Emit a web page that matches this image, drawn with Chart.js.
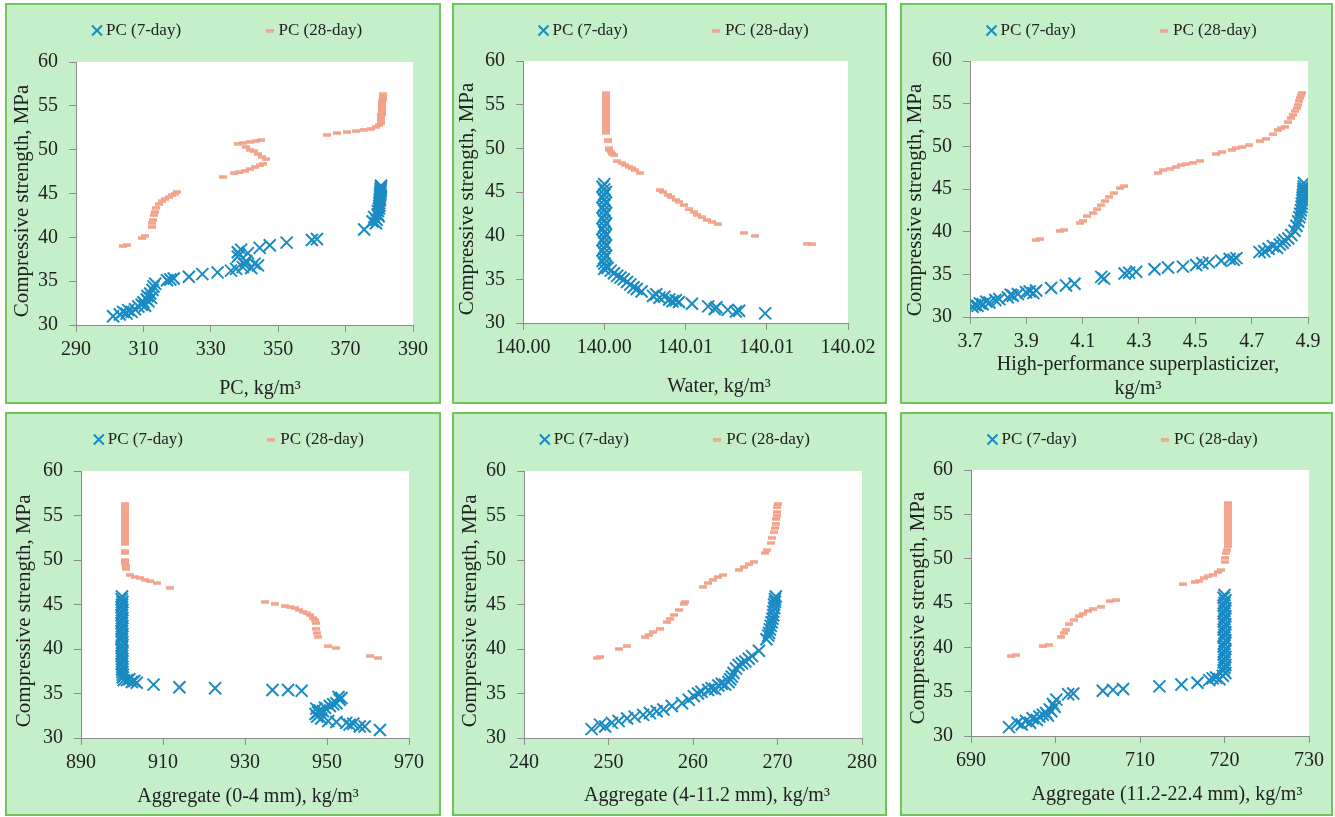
<!DOCTYPE html>
<html>
<head>
<meta charset="utf-8">
<title>Compressive strength vs mix constituents</title>
<script src="https://cdn.jsdelivr.net/npm/chart.js"></script>
<style>
  body { margin: 0; background: #fff; }
  .panel { position: absolute; background: #c4efc8; box-shadow: inset 0 0 0 2px #74c25a; }
  .panel canvas { position: absolute; left: 0; top: 0; }
</style>
</head>
<body>
<div class="panel" style="left:5px;top:3px;width:436px;height:401px"><canvas id="c1" width="436" height="401"></canvas></div>
<div class="panel" style="left:452px;top:3px;width:435px;height:401px"><canvas id="c2" width="435" height="401"></canvas></div>
<div class="panel" style="left:900px;top:3px;width:433px;height:401px"><canvas id="c3" width="433" height="401"></canvas></div>
<div class="panel" style="left:5px;top:412px;width:436px;height:404px"><canvas id="c4" width="436" height="404"></canvas></div>
<div class="panel" style="left:452px;top:412px;width:435px;height:404px"><canvas id="c5" width="435" height="404"></canvas></div>
<div class="panel" style="left:900px;top:412px;width:433px;height:404px"><canvas id="c6" width="433" height="404"></canvas></div>

<script>
/* ---------------- DATA ---------------- */
const seriesLabels = ['PC (7-day)', 'PC (28-day)'];
const strengthTicks = [30, 35, 40, 45, 50, 55, 60];
const strengthTitle = 'Compressive strength, MPa';

// PC content
const pcTicks = [290, 310, 330, 350, 370, 390];
const pcTickLabels = ['290', '310', '330', '350', '370', '390'];
const pc7X = [301.0, 303.0, 304.0, 305.0, 305.5, 306.5, 307.5, 308.5, 309.5, 310.0, 310.5, 311.0, 311.2, 311.5, 312.0, 312.3, 312.7, 313.0, 313.5, 317.0, 318.0, 319.0, 323.5, 327.5, 332.0, 336.0, 337.5, 338.0, 338.0, 338.5, 339.0, 339.5, 340.0, 340.5, 341.0, 342.0, 343.0, 344.0, 344.5, 347.5, 352.5, 360.0, 361.5, 375.5,
  378.0, 378.5, 379.0, 379.2, 379.5, 379.6, 379.8, 379.9, 380.0, 380.0, 380.1, 380.2, 380.2, 380.3, 380.3, 380.4, 380.4, 380.5, 380.5];
const pc7Y = [31.0, 31.2, 31.5, 31.3, 31.7, 31.5, 31.8, 32.1, 32.3, 32.6, 32.2, 32.9, 33.3, 32.7, 33.6, 33.1, 34.0, 34.4, 34.7, 35.1, 35.2, 35.3, 35.5, 35.8, 36.0, 36.2, 36.4, 37.8, 38.3, 38.0, 38.6, 36.6, 36.9, 37.3, 38.2, 36.5, 37.0, 36.8, 38.8, 39.1, 39.4, 39.7, 39.8, 40.9,
  41.8, 42.3, 41.6, 42.0, 42.6, 43.0, 42.4, 43.3, 43.6, 43.9, 44.2, 44.4, 44.7, 44.9, 45.1, 45.3, 45.5, 45.7, 45.9];
const pc28X = [304.0, 305.0, 309.5, 310.5, 312.5, 312.7, 312.9, 313.0, 313.3, 313.7, 314.5, 315.5, 316.5, 317.5, 318.5, 319.5, 320.0, 333.5, 337.0, 338.5, 340.0, 341.5, 343.0, 344.5, 345.5, 346.3, 345.2, 344.0, 342.8, 341.6, 340.5, 338.0, 339.5, 341.5, 343.5, 345.0, 364.5, 367.5, 370.5, 373.0, 375.5, 377.5, 379.0, 380.0,
  380.4, 380.5, 380.6, 380.6, 380.7, 380.7, 380.8, 380.8, 380.8, 380.9, 380.9, 380.9, 381.0, 381.0, 381.0, 381.0];
const pc28Y = [39.0, 39.1, 39.9, 40.2, 41.2, 41.6, 42.0, 42.5, 42.9, 43.4, 43.8, 44.1, 44.4, 44.6, 44.8, 45.0, 45.2, 46.9, 47.3, 47.4, 47.6, 47.8, 48.0, 48.2, 48.4, 48.9, 49.2, 49.5, 49.8, 50.0, 50.3, 50.7, 50.8, 50.9, 51.0, 51.1, 51.7, 51.9, 52.0, 52.1, 52.3, 52.4, 52.6, 52.8,
  53.0, 53.3, 53.6, 53.9, 54.1, 54.3, 54.5, 54.7, 54.9, 55.1, 55.3, 55.5, 55.7, 55.9, 56.1, 56.3];

// Water content
const waterTicks = [140.000, 140.005, 140.010, 140.015, 140.020];
const waterTickLabels = ['140.00', '140.00', '140.01', '140.01', '140.02'];
const water7X = [140.0050, 140.0049, 140.0050, 140.0051, 140.0050, 140.0049, 140.0050, 140.0051, 140.0050, 140.0049, 140.0050, 140.0051, 140.0050, 140.0049, 140.0050, 140.0051, 140.0050, 140.0049, 140.0050, 140.0051, 140.0050, 140.0049, 140.0050, 140.0051, 140.0050, 140.0049, 140.0050, 140.0051, 140.0050, 140.0049, 140.0050, 140.0051, 140.0050,
  140.0052, 140.0054, 140.0056, 140.0058, 140.0060, 140.0062, 140.0064, 140.0066, 140.0068, 140.0070, 140.0073, 140.0080, 140.0082, 140.0084, 140.0087, 140.0090, 140.0092, 140.0094, 140.0096, 140.0104, 140.0114, 140.0118, 140.0119, 140.0126, 140.0131, 140.0133, 140.0149];
const water7Y = [45.9, 45.6, 45.3, 45.0, 44.7, 44.4, 44.1, 43.8, 43.5, 43.2, 42.9, 42.6, 42.3, 42.0, 41.7, 41.4, 41.1, 40.8, 40.4, 40.1, 39.8, 39.5, 39.2, 38.9, 38.6, 38.3, 38.0, 37.7, 37.4, 37.1, 36.8, 36.5, 36.2,
  36.3, 36.0, 35.7, 35.4, 35.2, 35.0, 34.7, 34.4, 34.1, 33.9, 33.6, 33.1, 33.3, 32.9, 33.0, 32.7, 32.5, 32.6, 32.4, 32.2, 31.9, 31.6, 31.8, 31.5, 31.3, 31.4, 31.1];
const water28X = [140.0051, 140.0051, 140.0051, 140.0051, 140.0051, 140.0051, 140.0051, 140.0051, 140.0051, 140.0051, 140.0051, 140.0051, 140.0051, 140.0051, 140.0051, 140.0051,
  140.0052, 140.0052, 140.0053, 140.0053, 140.0054, 140.0055, 140.0056, 140.0058, 140.0061, 140.0063, 140.0065, 140.0067, 140.0069, 140.0072,
  140.0084, 140.0086, 140.0089, 140.0091, 140.0094, 140.0096, 140.0099, 140.0102, 140.0105, 140.0107, 140.0110, 140.0113, 140.0116, 140.0120, 140.0136, 140.0143, 140.0175, 140.0178];
const water28Y = [56.3, 56.0, 55.7, 55.4, 55.1, 54.8, 54.5, 54.2, 53.9, 53.6, 53.3, 53.0, 52.7, 52.4, 52.1, 51.8,
  51.0, 50.8, 50.0, 49.8, 49.6, 49.4, 49.2, 48.5, 48.3, 48.1, 47.9, 47.7, 47.5, 47.2,
  45.2, 45.0, 44.7, 44.4, 44.1, 43.9, 43.5, 43.0, 42.7, 42.4, 42.1, 41.8, 41.6, 41.3, 40.3, 40.0, 39.1, 39.0];

// High-performance superplasticizer content
const hpspTicks = [3.7, 3.9, 4.1, 4.3, 4.5, 4.7, 4.9];
const hpspTickLabels = ['3.7', '3.9', '4.1', '4.3', '4.5', '4.7', '4.9'];
const hpsp7X = [3.709, 3.718, 3.727, 3.735, 3.745, 3.758, 3.769, 3.790, 3.804, 3.834, 3.845, 3.852, 3.870, 3.899, 3.912, 3.925, 3.935, 3.988, 4.041, 4.071, 4.166, 4.176, 4.249, 4.265, 4.290, 4.355, 4.403, 4.456, 4.503, 4.525, 4.548, 4.592, 4.622, 4.636, 4.646, 4.728, 4.745, 4.760, 4.776, 4.790, 4.800, 4.810, 4.817, 4.830, 4.841, 4.852, 4.859, 4.865, 4.869, 4.872, 4.875, 4.877, 4.878, 4.880, 4.881, 4.882, 4.883, 4.884, 4.885, 4.885];
const hpsp7Y = [31.2, 31.4, 31.3, 31.6, 31.5, 31.8, 31.7, 32.0, 32.1, 32.3, 32.6, 32.5, 32.7, 32.9, 33.0, 32.8, 33.1, 33.4, 33.7, 33.9, 34.7, 34.5, 35.1, 35.2, 35.3, 35.6, 35.8, 35.9, 36.1, 36.3, 36.4, 36.6, 36.8, 36.7, 36.9, 37.6, 37.7, 38.0, 38.3, 38.1, 38.5, 38.7, 39.0, 39.2, 39.6, 40.1, 40.7, 41.2, 41.7, 42.1, 42.5, 42.9, 43.3, 43.7, 44.0, 44.3, 44.7, 45.0, 45.3, 45.7];
const hpsp28X = [3.935, 3.950, 4.018, 4.035, 4.089, 4.100, 4.115, 4.136, 4.150, 4.166, 4.180, 4.195, 4.210, 4.231, 4.245, 4.367, 4.385, 4.410, 4.432, 4.450, 4.468, 4.490, 4.515, 4.574, 4.595, 4.630, 4.645, 4.665, 4.690, 4.728, 4.750, 4.775, 4.794, 4.805, 4.817, 4.830, 4.841, 4.848, 4.855, 4.860, 4.865, 4.869, 4.872, 4.875, 4.877];
const hpsp28Y = [39.0, 39.1, 40.1, 40.2, 41.0, 41.3, 41.8, 42.2, 42.6, 43.1, 43.6, 44.1, 44.5, 45.1, 45.3, 46.9, 47.2, 47.4, 47.6, 47.8, 47.9, 48.1, 48.3, 49.1, 49.3, 49.6, 49.8, 49.9, 50.1, 50.6, 50.9, 51.4, 51.9, 52.1, 52.3, 52.8, 53.3, 53.7, 54.1, 54.5, 54.9, 55.3, 55.7, 56.0, 56.3];

// Aggregate 0-4 mm
const fineTicks = [890, 910, 930, 950, 970];
const fineTickLabels = ['890', '910', '930', '950', '970'];
const fine7X = [900.0, 899.9, 900.1, 900.0, 899.9, 900.1, 900.0, 899.9, 900.1, 900.0, 899.9, 900.1, 900.0, 899.9, 900.1, 900.0, 899.9, 900.1, 900.0, 899.9, 900.1, 900.0, 899.9, 900.1, 900.0, 899.9, 900.1, 900.0, 900.1, 900.2, 900.2,
  900.4, 901.2, 901.8, 902.4, 903.0, 903.6, 907.7, 914.0, 922.7, 936.7, 940.5, 943.8, 947.2, 947.4, 947.6, 947.8, 948.2, 948.6, 949.0, 949.5, 950.3, 950.7, 951.5, 952.3, 952.8, 953.1, 953.5, 952.3, 954.7, 955.5, 956.4, 958.0, 959.2, 962.9];
const fine7Y = [45.9, 45.6, 45.3, 45.0, 44.7, 44.4, 44.1, 43.8, 43.5, 43.2, 42.9, 42.6, 42.3, 42.0, 41.7, 41.4, 41.1, 40.8, 40.4, 40.1, 39.8, 39.5, 39.2, 38.9, 38.6, 38.3, 38.0, 37.7, 37.4, 37.1, 36.8,
  36.5, 36.5, 36.6, 36.3, 36.4, 36.2, 36.0, 35.7, 35.6, 35.4, 35.4, 35.3, 32.7, 33.3, 32.4, 32.9, 33.1, 32.2, 33.0, 33.4, 31.9, 33.6, 33.8, 33.9, 34.6, 34.3, 34.5, 31.8, 31.7, 31.5, 31.6, 31.3, 31.3, 30.9];
const fine28X = [900.7, 900.7, 900.7, 900.7, 900.7, 900.7, 900.7, 900.7, 900.7, 900.7, 900.7, 900.7, 900.7, 900.7, 900.7, 900.7, 900.7, 900.7, 900.8, 900.8, 900.8, 900.9, 901.0,
  902.0, 903.2, 904.4, 905.6, 906.9, 908.5, 911.7, 934.9, 937.3, 939.7, 941.0, 942.2, 943.2, 944.2, 945.0, 945.8, 946.5, 947.0, 947.2, 947.4, 947.6, 947.9, 950.3, 952.3, 960.4, 962.4];
const fine28Y = [56.3, 56.0, 55.7, 55.4, 55.1, 54.8, 54.5, 54.2, 53.9, 53.6, 53.3, 53.0, 52.7, 52.4, 52.1, 51.8, 51.0, 50.8, 50.0, 49.8, 49.6, 49.3, 49.0,
  48.3, 48.1, 48.0, 47.8, 47.6, 47.4, 46.9, 45.3, 45.1, 44.8, 44.7, 44.6, 44.4, 44.2, 44.0, 43.8, 43.5, 43.3, 42.9, 42.3, 41.8, 41.4, 40.3, 40.1, 39.2, 39.0];

// Aggregate 4-11.2 mm
const midTicks = [240, 250, 260, 270, 280];
const midTickLabels = ['240', '250', '260', '270', '280'];
const mid7X = [248.0, 249.0, 249.6, 250.4, 251.2, 252.2, 253.1, 254.1, 254.9, 255.7, 256.5, 257.5, 258.7, 259.5, 260.1, 260.6, 261.0, 261.8, 262.2, 262.6, 263.0, 263.4, 263.8, 264.2, 264.4, 264.6, 264.8, 265.1, 265.4, 265.8, 266.2, 266.6, 267.0, 267.8, 268.7, 268.9, 269.0, 269.1, 269.2, 269.3, 269.4, 269.5, 269.5, 269.6, 269.6, 269.7, 269.7, 269.8];
const mid7Y = [31.0, 31.5, 31.3, 31.7, 31.9, 32.2, 32.4, 32.6, 32.8, 33.0, 33.2, 33.6, 33.9, 34.3, 34.7, 35.0, 35.2, 35.4, 35.6, 35.5, 35.9, 36.1, 36.0, 36.3, 36.6, 36.9, 37.3, 37.8, 38.2, 38.4, 38.6, 38.9, 39.2, 39.8, 41.1, 41.5, 41.8, 42.2, 42.6, 43.0, 43.4, 43.8, 44.2, 44.6, 45.0, 45.3, 45.6, 45.9];
const mid28X = [248.6, 249.0, 251.2, 252.2, 254.3, 254.8, 255.3, 256.1, 256.9, 257.3, 257.7, 258.3, 258.9, 259.1, 261.2, 261.8, 262.4, 263.0, 263.6, 265.4, 266.0, 266.6, 267.2, 268.5, 268.8, 269.2, 269.4, 269.6, 269.7, 269.8, 269.8, 269.9, 269.9, 269.9, 270.0];
const mid28Y = [39.0, 39.1, 40.0, 40.3, 41.3, 41.6, 41.9, 42.3, 43.0, 43.4, 43.8, 44.4, 45.1, 45.3, 47.0, 47.4, 47.8, 48.1, 48.3, 48.9, 49.2, 49.5, 49.8, 50.8, 51.1, 51.9, 52.5, 53.1, 53.6, 54.1, 54.6, 55.0, 55.4, 55.9, 56.3];

// Aggregate 11.2-22.4 mm
const coarseTicks = [690, 700, 710, 720, 730];
const coarseTickLabels = ['690', '700', '710', '720', '730'];
const coarse7X = [694.5, 695.5, 696.0, 696.5, 697.0, 697.3, 697.8, 698.1, 698.5, 698.9, 699.1, 699.3, 699.5, 699.7, 699.9, 700.1, 701.5, 702.1, 705.6, 706.8, 708.0, 712.3, 714.9, 716.8, 718.2, 718.6, 719.0, 719.4, 719.8,
  720.0, 719.9, 720.1, 720.0, 719.9, 720.1, 720.0, 719.9, 720.1, 720.0, 719.9, 720.1, 720.0, 719.9, 720.1, 720.0, 719.9, 720.1, 720.0, 719.9, 720.1, 720.0, 719.9, 720.1, 720.0, 719.9, 720.1, 720.0, 719.9, 720.1];
const coarse7Y = [31.0, 31.5, 31.3, 31.7, 31.5, 32.0, 31.8, 32.2, 32.4, 32.6, 32.3, 33.0, 32.8, 33.6, 33.3, 34.1, 34.7, 34.8, 35.1, 35.2, 35.3, 35.6, 35.8, 36.0, 36.3, 36.5, 36.6, 36.4, 36.8,
  45.9, 45.6, 45.3, 45.0, 44.7, 44.4, 44.1, 43.8, 43.5, 43.2, 42.9, 42.6, 42.3, 42.0, 41.7, 41.4, 41.1, 40.8, 40.4, 40.1, 39.8, 39.5, 39.2, 38.9, 38.6, 38.3, 38.0, 37.7, 37.4, 37.1];
const coarse28X = [694.7, 695.3, 698.5, 699.2, 700.7, 701.0, 701.3, 701.6, 702.2, 702.8, 703.2, 703.8, 704.4, 705.4, 706.4, 707.2, 715.1, 716.5, 717.0, 717.6, 718.1, 718.6, 719.2, 719.6, 720.0, 720.1, 720.2, 720.3,
  720.4, 720.4, 720.4, 720.4, 720.4, 720.4, 720.4, 720.4, 720.4, 720.4, 720.4, 720.4, 720.4, 720.4, 720.4, 720.4, 720.4];
const coarse28Y = [39.0, 39.1, 40.1, 40.3, 41.2, 41.6, 42.0, 42.6, 43.1, 43.5, 43.8, 44.1, 44.3, 44.6, 45.2, 45.3, 47.1, 47.4, 47.5, 47.8, 48.0, 48.2, 48.5, 48.7, 49.6, 50.1, 50.6, 51.0,
  51.4, 51.8, 52.1, 52.4, 52.7, 53.0, 53.3, 53.6, 53.9, 54.2, 54.5, 54.8, 55.1, 55.4, 55.7, 56.0, 56.3];

/* ---------------- STYLE ---------------- */
const FONT = "'Liberation Serif', 'Times New Roman', serif";
const TEXT = '#222222';
const AXIS = '#8c8c8c';
const BLUE = '#1a8bc2';
const SALMON = '#f2a28a';
const LEG_PAD = 88;

// short horizontal dash used as the 28-day marker
const dash = document.createElement('canvas');
dash.width = 8; dash.height = 4;
const dctx = dash.getContext('2d');
dctx.fillStyle = SALMON;
dctx.fillRect(0, 0.3, 8, 3.4);

function pts(xs, ys) {
  return xs.map((x, i) => ({ x: x, y: ys[i] }));
}

// white plot area on the green panel
const plotBg = {
  id: 'plotBg',
  beforeDraw(chart) {
    const a = chart.chartArea;
    chart.ctx.save();
    chart.ctx.fillStyle = '#ffffff';
    chart.ctx.fillRect(a.left, a.top, a.right - a.left, a.bottom - a.top);
    chart.ctx.restore();
  }
};

// keep the legend on one row and give it a fixed height
const legendFix = {
  id: 'legendFix',
  beforeLayout(chart, args, opts) {
    const lg = chart.legend;
    if (!lg || lg._fixed) return;
    const fit = lg.fit;
    lg.fit = function () {
      const mw = this.maxWidth;
      this.maxWidth = 5000;
      fit.call(this);
      this.maxWidth = mw;
      this.width = mw;
      this.height = opts.height;
    };
    const draw = lg.draw;
    lg.draw = function () {
      const r = this.right;
      this.right = 5000;
      draw.call(this);
      this.right = r;
    };
    lg._fixed = true;
  }
};

function shiftTitle(scale, dx, dy) {
  if (scale._shifted) return;
  const draw = scale.drawTitle;
  scale.drawTitle = function () {
    this.ctx.save();
    this.ctx.translate(dx, dy);
    draw.call(this);
    this.ctx.restore();
  };
  scale._shifted = true;
}

/* ---------------- PANELS ---------------- */
const panels = [
  { id: 'c1', w: 436, h: 401, plot: { l: 71, r: 408, t: 59, b: 322 }, legX: 91.5,
    xv: pcTicks, xl: pcTickLabels, xTitle: 'PC, kg/m³', xPad: 3, dx: 15.5, yPad: 1, dy: 7.5,
    x7: pc7X, y7: pc7Y, x28: pc28X, y28: pc28Y },
  { id: 'c2', w: 435, h: 401, plot: { l: 71, r: 396, t: 58, b: 320 }, legX: 91,
    xv: waterTicks, xl: waterTickLabels, xTitle: 'Water, kg/m³', xPad: 5, dx: 33.5, yPad: 0, dy: 7,
    x7: water7X, y7: water7Y, x28: water28X, y28: water28Y },
  { id: 'c3', w: 433, h: 401, plot: { l: 70, r: 408, t: 58, b: 314 }, legX: 91,
    xv: hpspTicks, xl: hpspTickLabels, xTitle: ['High-performance superplasticizer,', 'kg/m³'], xPad: 3, dx: -1, yPad: 0, dy: 11,
    x7: hpsp7X, y7: hpsp7Y, x28: hpsp28X, y28: hpsp28Y },
  { id: 'c4', w: 436, h: 404, plot: { l: 76, r: 404, t: 59, b: 326 }, legX: 93.3,
    xv: fineTicks, xl: fineTickLabels, xTitle: 'Aggregate (0-4 mm), kg/m³', xPad: 7.7, dx: 3, yPad: 2, dy: 6.3,
    x7: fine7X, y7: fine7Y, x28: fine28X, y28: fine28Y },
  { id: 'c5', w: 435, h: 404, plot: { l: 72, r: 410, t: 59, b: 326 }, legX: 92.3,
    xv: midTicks, xl: midTickLabels, xTitle: 'Aggregate (4-11.2 mm), kg/m³', xPad: 8.5, dx: 14, yPad: 1.7, dy: 6.3,
    x7: mid7X, y7: mid7Y, x28: mid28X, y28: mid28Y },
  { id: 'c6', w: 433, h: 404, plot: { l: 71, r: 409, t: 58, b: 324 }, legX: 92,
    xv: coarseTicks, xl: coarseTickLabels, xTitle: 'Aggregate (11.2-22.4 mm), kg/m³', xPad: 9.3, dx: 27, yPad: 1.7, dy: 5,
    x7: coarse7X, y7: coarse7Y, x28: coarse28X, y28: coarse28Y }
];

function makePanel(p) {
  const legTop = -69;            // legend text sits at legTop + padding + 8.5
  const padL = p.legX - LEG_PAD;
  const tickFont = { family: FONT, size: 20 };
  const axisGrid = { drawOnChartArea: false, drawTicks: true, tickLength: 7, color: AXIS, lineWidth: 1 };

  new Chart(document.getElementById(p.id), {
    type: 'scatter',
    data: {
      datasets: [
        {
          label: seriesLabels[0],
          data: pts(p.x7, p.y7),
          pointStyle: 'crossRot',
          pointRadius: 8.5,
          pointHoverRadius: 8.5,
          borderColor: BLUE,
          backgroundColor: BLUE,
          borderWidth: 2,
          pointBorderWidth: 2
        },
        {
          label: seriesLabels[1],
          data: pts(p.x28, p.y28),
          pointStyle: dash,
          pointRadius: 4,
          pointHoverRadius: 4,
          borderColor: SALMON,
          backgroundColor: SALMON,
          borderWidth: 0
        }
      ]
    },
    options: {
      responsive: false,
      animation: false,
      events: [],
      layout: { padding: { left: padL, right: p.w - p.plot.r, top: legTop, bottom: 0 } },
      plugins: {
        tooltip: { enabled: false },
        legendFix: { height: p.plot.t - legTop },
        legend: {
          display: true,
          position: 'top',
          align: 'start',
          labels: {
            usePointStyle: true,
            boxWidth: 1,
            boxHeight: 10,
            padding: LEG_PAD,
            color: TEXT,
            font: { family: FONT, size: 17 }
          }
        }
      },
      scales: {
        x: {
          type: 'linear',
          min: p.xv[0],
          max: p.xv[p.xv.length - 1],
          afterBuildTicks: s => { s.ticks = p.xv.map(v => ({ value: v })); },
          afterFit: s => { s.height = p.h - p.plot.b; shiftTitle(s, p.dx, 0); },
          ticks: { autoSkip: false, maxRotation: 0, padding: 6, color: TEXT, font: tickFont,
                   callback: (v, i) => p.xl[i] },
          grid: axisGrid,
          border: { color: AXIS, width: 1 },
          title: { display: true, text: p.xTitle, color: TEXT, font: { family: FONT, size: 20 },
                   padding: { top: 0, bottom: p.xPad } }
        },
        y: {
          type: 'linear',
          min: strengthTicks[0],
          max: strengthTicks[strengthTicks.length - 1],
          afterBuildTicks: s => { s.ticks = strengthTicks.map(v => ({ value: v })); },
          afterFit: s => { s.width = p.plot.l - padL; shiftTitle(s, 0, p.dy); },
          ticks: { padding: 11, color: TEXT, font: tickFont, callback: v => String(v) },
          grid: axisGrid,
          border: { color: AXIS, width: 1 },
          title: { display: true, text: strengthTitle, color: TEXT, font: { family: FONT, size: 21 },
                   padding: { top: p.yPad, bottom: 0 } }
        }
      }
    },
    plugins: [plotBg, legendFix]
  });
}

panels.forEach(makePanel);
</script>
</body>
</html>
